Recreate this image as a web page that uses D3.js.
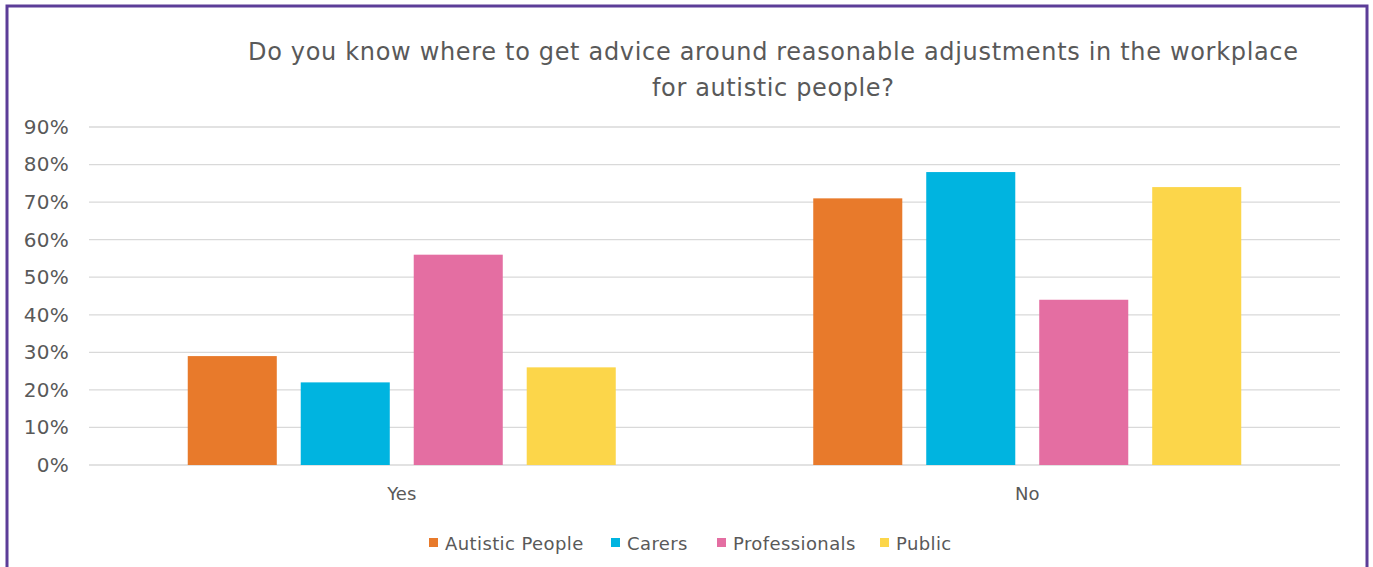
<!DOCTYPE html>
<html><head><meta charset="utf-8">
<script src="https://cdn.jsdelivr.net/npm/d3@7"></script>
<style>
body{margin:0;background:#fff;}
svg{display:block;}
text{font-family:"DejaVu Sans",sans-serif;fill:#595959;}
</style></head>
<body><svg id="chart" width="1373" height="567"></svg>
<script>
const categories = ["Yes", "No"];
const seriesNames = ["Autistic People", "Carers", "Professionals", "Public"];
const autistic = [0.29, 0.71];
const carers = [0.22, 0.78];
const professionals = [0.56, 0.44];
const publicVals = [0.26, 0.74];
const yTicks = [0, 0.1, 0.2, 0.3, 0.4, 0.5, 0.6, 0.7, 0.8, 0.9];
const colors = ["#e87a2b", "#00b4e0", "#e46ea2", "#fcd64a"];
const titleLines = ["Do you know where to get advice around reasonable adjustments in the workplace", "for autistic people?"];

const seriesValues = [autistic, carers, professionals, publicVals];
const svg = d3.select("#chart");

// border
svg.append("rect").attr("x", 7).attr("y", 6).attr("width", 1360).attr("height", 600)
  .attr("fill", "none").attr("stroke", "#5c3d98").attr("stroke-width", 3);

const pLeft = 89, pRight = 1340, pTop = 127, pBottom = 465;
const x0 = d3.scaleBand().domain(categories).range([pLeft, pRight]);
const x1 = d3.scaleBand().domain(seriesNames).range([0, x0.bandwidth()]).paddingInner(0.212).paddingOuter(0.874);
const y = d3.scaleLinear().domain([0, 0.9]).range([pBottom, pTop]);

// grid
svg.append("g").selectAll("line").data(yTicks).join("line")
  .attr("x1", pLeft).attr("x2", pRight)
  .attr("y1", d => y(d)).attr("y2", d => y(d))
  .attr("stroke", "#d9d9d9").attr("stroke-width", 1.3);

// y axis labels
const yAxis = d3.axisLeft(y).tickValues(yTicks).tickFormat(d3.format(".0%")).tickSize(0).tickPadding(0);
const ya = svg.append("g").attr("transform", `translate(${69},0)`).call(yAxis);
ya.select(".domain").remove();
ya.selectAll("text").style("font-size", "20px").style("letter-spacing", "0.3px").attr("fill", "#595959").style("font-family", '"DejaVu Sans",sans-serif');

// bars
const groups = svg.append("g").selectAll("g").data(categories).join("g")
  .attr("transform", d => `translate(${x0(d)},0)`);
groups.selectAll("rect").data((c, i) => seriesNames.map((s, j) => ({s, v: seriesValues[j][i], j})))
  .join("rect")
  .attr("x", d => x1(d.s)).attr("width", x1.bandwidth())
  .attr("y", d => y(d.v)).attr("height", d => pBottom - y(d.v))
  .attr("fill", d => colors[d.j]);

// x axis labels
const xAxis = d3.axisBottom(x0).tickSize(0).tickPadding(0);
const xa = svg.append("g").attr("transform", `translate(0,${pBottom})`).call(xAxis);
xa.select(".domain").remove();
xa.selectAll("text").style("font-size", "18px").attr("fill", "#595959").style("font-family", '"DejaVu Sans",sans-serif').attr("y", 35).attr("dy", 0);

// title
const titleWidths = [1050, 242];
svg.append("g").selectAll("text").data(titleLines).join("text")
  .attr("x", 773).attr("y", (d, i) => 60 + i * 36)
  .attr("text-anchor", "middle").style("font-size", "24px")
  .attr("textLength", (d, i) => titleWidths[i]).attr("lengthAdjust", "spacing")
  .text(d => d);

// legend
const legendX = [429, 611, 717, 880];
const lg = svg.append("g").selectAll("g").data(seriesNames).join("g")
  .attr("transform", (d, i) => `translate(${legendX[i]},543)`);
lg.append("rect").attr("x", 0).attr("y", -5).attr("width", 9).attr("height", 9).attr("fill", (d, i) => colors[i]);
lg.append("text").attr("x", 16).attr("y", 7).style("font-size", "18px").style("letter-spacing", "0.4px").text(d => d);
</script></body></html>
